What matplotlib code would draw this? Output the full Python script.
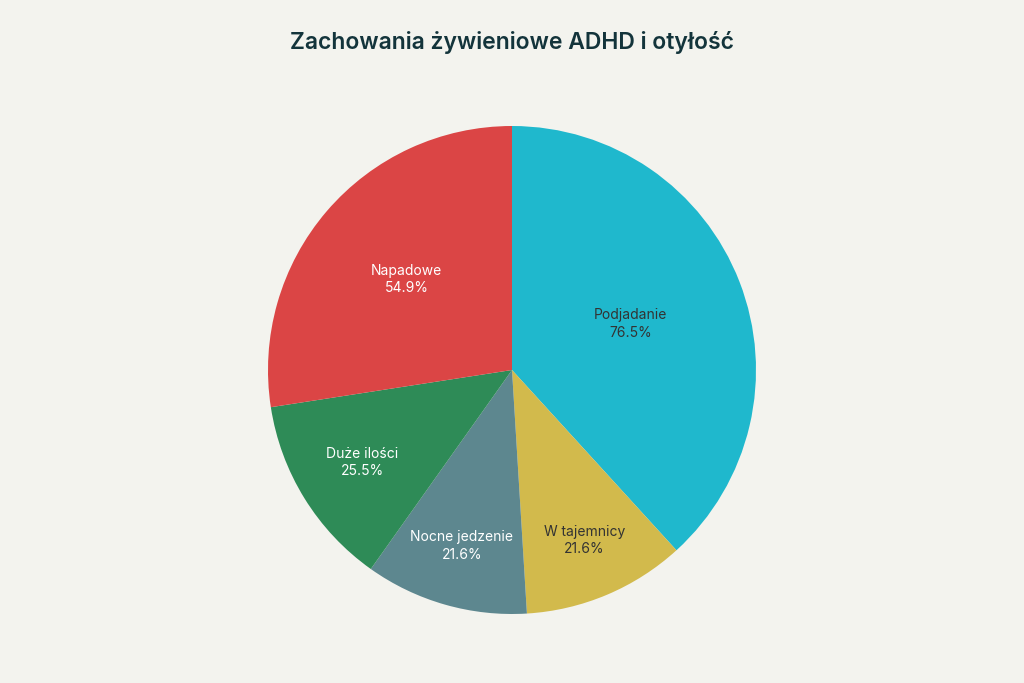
import numpy as np
import matplotlib.pyplot as plt

categories = ["Podjadanie", "W tajemnicy", "Nocne jedzenie", "Duże ilości", "Napadowe"]
values = [76.5, 21.6, 21.6, 25.5, 54.9]
colors = ["#1FB8CD", "#D2BA4C", "#5D878F", "#2E8B57", "#DB4545"]
text_colors = ["#333333", "#333333", "white", "white", "white"]
# radial position of each inside label (fraction of the radius)
label_dist = [0.52, 0.76, 0.75, 0.72, 0.57]

plt.rcParams['font.family'] = ['Inter', 'DejaVu Sans']

fig = plt.figure(figsize=(10.24, 6.83), dpi=100)
fig.patch.set_facecolor("#F3F3EE")

# pie centred at (512, 370) px, radius ~244 px
r = 244
ax = fig.add_axes([(512 - r) / 1024, (683 - 370 - r) / 683, 2 * r / 1024, 2 * r / 683])
ax.set_facecolor("#F3F3EE")

wedges, _ = ax.pie(values, colors=colors, startangle=90, counterclock=False,
                   radius=1, wedgeprops=dict(linewidth=0))

for w, name, v, c, d in zip(wedges, categories, values, text_colors, label_dist):
    mid = np.deg2rad((w.theta1 + w.theta2) / 2)
    ax.text(d * np.cos(mid), d * np.sin(mid), f"{name}\n{v}%", ha="center", va="center",
            fontsize=10, color=c, linespacing=1.3)

ax.set_xlim(-1, 1)
ax.set_ylim(-1, 1)
ax.set_aspect("equal")
ax.axis("off")

fig.text(0.5, 1 - 43 / 683, "Zachowania żywieniowe ADHD i otyłość", ha="center", va="center",
         fontsize=16.5, fontweight="semibold", color="#13343B")

fig.savefig("out.png", dpi=100, facecolor=fig.get_facecolor())
